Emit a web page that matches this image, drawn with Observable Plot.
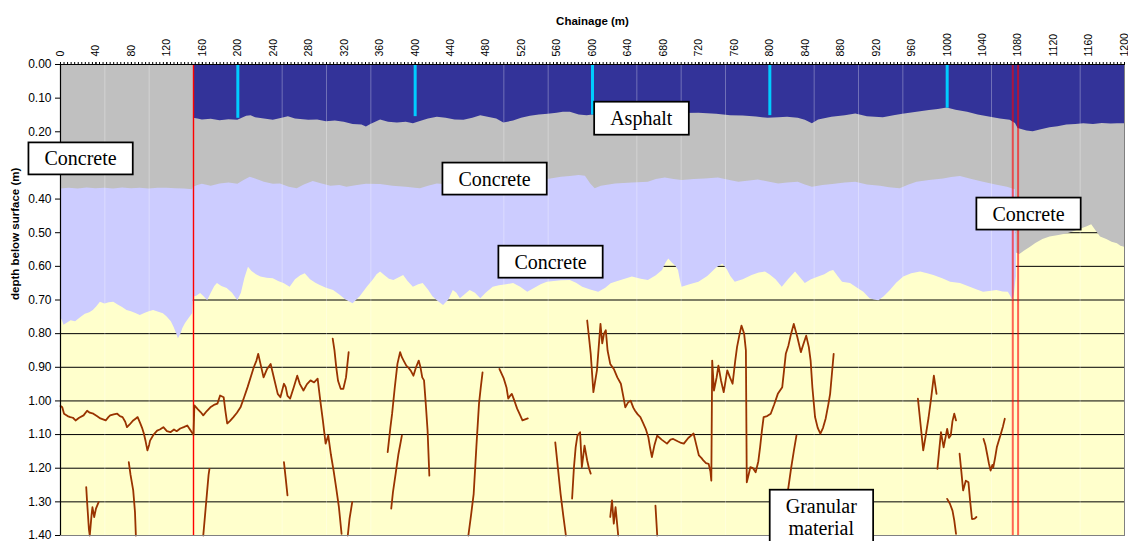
<!DOCTYPE html>
<html><head><meta charset="utf-8">
<script src="https://cdn.jsdelivr.net/npm/d3@7"></script>
<script src="https://cdn.jsdelivr.net/npm/@observablehq/plot@0.6"></script>
<style>body{margin:0;background:#fff}</style>
</head><body><div id="chart"></div>
<script>
// ---------- axis ticks ----------
const xTicks = d3.range(0, 1201, 40);
const xMinorTicks = d3.range(0, 1201, 4);
const yTicks = d3.range(0, 15).map(i => i / 10);

// ---------- layer boundaries: [chainage (m), depth (m)] ----------
const asphaltBottom = [[150,0.160],[155,0.162],[160,0.165],[170,0.163],[180,0.167],[190,0.164],[200,0.166],[205,0.160],[210,0.154],[215,0.152],[220,0.158],[230,0.162],[240,0.166],[250,0.160],[257,0.155],[265,0.162],[280,0.166],[290,0.165],[300,0.170],[310,0.168],[320,0.172],[330,0.178],[340,0.180],[345,0.186],[350,0.178],[361,0.165],[370,0.172],[380,0.174],[390,0.172],[398,0.176],[405,0.170],[415,0.162],[425,0.157],[435,0.160],[445,0.165],[455,0.166],[465,0.160],[474,0.152],[485,0.158],[492,0.162],[500,0.174],[511,0.168],[520,0.160],[530,0.154],[540,0.150],[550,0.148],[560,0.145],[567,0.142],[575,0.142],[585,0.150],[594,0.152],[600,0.150],[620,0.152],[640,0.150],[660,0.148],[680,0.147],[700,0.146],[720,0.145],[740,0.148],[756,0.152],[770,0.153],[785,0.156],[798,0.160],[810,0.158],[820,0.157],[832,0.160],[840,0.166],[848,0.176],[855,0.165],[870,0.157],[885,0.152],[897,0.147],[910,0.155],[928,0.158],[940,0.152],[950,0.148],[966,0.142],[980,0.137],[990,0.134],[1000,0.129],[1010,0.136],[1023,0.142],[1035,0.150],[1049,0.157],[1060,0.162],[1071,0.166],[1077,0.175],[1080,0.190],[1090,0.198],[1097,0.200],[1105,0.195],[1116,0.188],[1125,0.185],[1135,0.180],[1145,0.178],[1154,0.176],[1165,0.178],[1175,0.175],[1185,0.177],[1192,0.176],[1200,0.176]];

const concreteBottom = [[0,0.370],[10,0.368],[20,0.370],[30,0.367],[40,0.369],[50,0.368],[60,0.370],[70,0.367],[80,0.369],[90,0.368],[100,0.370],[110,0.368],[120,0.368],[130,0.369],[140,0.370],[149,0.372],[150,0.365],[155,0.360],[160,0.356],[170,0.362],[180,0.355],[190,0.352],[200,0.356],[207,0.345],[214,0.335],[220,0.340],[230,0.350],[240,0.356],[248,0.355],[258,0.365],[267,0.369],[275,0.358],[285,0.348],[295,0.355],[305,0.362],[315,0.360],[323,0.365],[335,0.360],[345,0.356],[361,0.357],[375,0.362],[390,0.365],[400,0.368],[406,0.369],[415,0.362],[425,0.355],[440,0.358],[460,0.360],[480,0.358],[500,0.356],[520,0.352],[540,0.345],[553,0.340],[565,0.335],[575,0.333],[585,0.330],[592,0.332],[598,0.355],[603,0.369],[610,0.362],[626,0.355],[645,0.352],[663,0.350],[672,0.342],[682,0.337],[692,0.342],[701,0.345],[715,0.342],[727,0.340],[742,0.337],[755,0.345],[765,0.350],[787,0.343],[800,0.350],[810,0.355],[820,0.352],[832,0.350],[840,0.358],[848,0.365],[860,0.360],[871,0.357],[885,0.352],[897,0.350],[910,0.358],[925,0.362],[935,0.366],[947,0.369],[957,0.358],[966,0.350],[980,0.345],[996,0.340],[1005,0.336],[1015,0.333],[1028,0.342],[1041,0.350],[1055,0.358],[1068,0.365],[1074,0.370],[1077,0.372],[1078,0.560],[1082,0.565],[1087,0.555],[1094,0.543],[1100,0.532],[1108,0.520],[1116,0.513],[1126,0.508],[1136,0.503],[1145,0.495],[1152,0.488],[1158,0.482],[1163,0.476],[1168,0.495],[1173,0.513],[1180,0.520],[1186,0.528],[1192,0.533],[1196,0.540],[1200,0.543]];

const lowerConcreteBottom = [[0,0.752],[2,0.760],[4,0.775],[7,0.770],[12,0.762],[17,0.765],[23,0.752],[28,0.742],[33,0.738],[37,0.731],[41,0.720],[45,0.707],[50,0.712],[55,0.708],[60,0.707],[65,0.715],[70,0.722],[75,0.731],[80,0.735],[85,0.740],[90,0.746],[95,0.740],[100,0.735],[105,0.731],[110,0.736],[116,0.741],[120,0.750],[125,0.765],[128,0.781],[131,0.800],[133,0.815],[136,0.800],[138,0.785],[141,0.770],[145,0.755],[149,0.741],[150,0.692],[154,0.688],[158,0.681],[162,0.690],[166,0.702],[170,0.680],[174,0.660],[177,0.651],[182,0.660],[188,0.666],[194,0.680],[200,0.702],[204,0.680],[208,0.635],[212,0.603],[216,0.615],[221,0.625],[226,0.632],[233,0.635],[240,0.637],[246,0.645],[252,0.651],[259,0.662],[265,0.640],[271,0.628],[276,0.622],[282,0.640],[288,0.650],[293,0.657],[300,0.665],[308,0.672],[315,0.685],[322,0.700],[330,0.711],[338,0.690],[346,0.662],[353,0.640],[357,0.625],[361,0.617],[366,0.628],[371,0.638],[376,0.642],[381,0.635],[387,0.627],[392,0.645],[398,0.662],[404,0.655],[409,0.651],[415,0.670],[420,0.690],[425,0.702],[432,0.716],[438,0.700],[443,0.672],[447,0.680],[451,0.696],[456,0.685],[462,0.672],[468,0.680],[474,0.696],[480,0.680],[488,0.662],[495,0.658],[503,0.655],[511,0.651],[519,0.662],[527,0.677],[535,0.665],[542,0.655],[549,0.647],[557,0.645],[565,0.643],[575,0.642],[582,0.650],[589,0.662],[598,0.670],[607,0.677],[615,0.665],[621,0.652],[626,0.647],[635,0.640],[645,0.632],[655,0.638],[663,0.642],[672,0.628],[679,0.612],[683,0.590],[686,0.578],[690,0.590],[694,0.600],[697,0.612],[699,0.640],[701,0.662],[710,0.655],[720,0.647],[730,0.630],[740,0.605],[744,0.598],[747,0.593],[752,0.610],[756,0.630],[761,0.647],[770,0.640],[780,0.627],[788,0.620],[795,0.617],[800,0.625],[807,0.640],[814,0.662],[821,0.640],[829,0.617],[835,0.635],[840,0.651],[847,0.640],[855,0.632],[862,0.625],[868,0.615],[872,0.612],[877,0.630],[882,0.647],[891,0.651],[899,0.665],[906,0.677],[913,0.696],[918,0.700],[923,0.702],[929,0.690],[936,0.672],[943,0.650],[951,0.632],[960,0.622],[970,0.617],[978,0.622],[985,0.627],[995,0.637],[1004,0.647],[1015,0.651],[1026,0.662],[1034,0.670],[1041,0.677],[1048,0.675],[1056,0.672],[1063,0.676],[1069,0.677],[1072,0.690],[1074,0.702],[1076,0.680],[1078,0.630]];

// ---------- granular material interface traces ----------
const granular01 = [[0,1.015],[2,1.019],[4,1.038],[8,1.045],[11,1.048],[14,1.050],[17,1.058],[21,1.050],[26,1.043],[30,1.029],[33,1.035],[37,1.038],[41,1.045],[45,1.052],[48,1.055],[51,1.058],[54,1.048],[56,1.043],[60,1.040],[64,1.038],[67,1.045],[70,1.048],[73,1.062],[75,1.078],[78,1.070],[82,1.058],[85,1.052],[87,1.048],[90,1.067],[92,1.080],[94,1.097],[96,1.120],[98,1.147],[100,1.130],[101,1.118],[105,1.100],[109,1.088],[112,1.085],[116,1.078],[120,1.090],[124,1.093],[128,1.085],[131,1.090],[135,1.082],[139,1.078],[143,1.073],[146,1.085],[149,1.097],[150,1.100]];
const granular02 = [[150,1.100],[151,1.013],[155,1.025],[158,1.033],[161,1.043],[165,1.030],[169,1.019],[173,1.012],[177,1.008],[180,0.984],[184,0.989],[186,1.030],[188,1.067],[191,1.060],[195,1.048],[199,1.035],[203,1.019],[207,0.990],[211,0.959],[215,0.925],[218,0.900],[221,0.880],[223,0.860],[226,0.895],[229,0.930],[233,0.905],[237,0.890],[241,0.935],[245,0.979],[248,0.989],[252,0.949],[254,0.959],[256,0.985],[259,0.993],[263,0.960],[267,0.925],[270,0.950],[274,0.969],[278,0.950],[282,0.939],[286,0.945],[290,0.934],[293,0.999],[296,1.060],[299,1.127],[302,1.103],[305,1.160],[308,1.207],[311,1.260],[314,1.316],[317,1.395]];
const granular03 = [[324,1.400],[326,1.350],[329,1.301]];
const granular04 = [[307,0.815],[309,0.850],[311,0.900],[313,0.940],[316,0.964],[319,0.964],[322,0.930],[324,0.880],[325,0.855]];
const granular05 = [[252,1.182],[254,1.230],[256,1.281]];
const granular06 = [[369,1.152],[372,1.080],[374,1.038],[377,0.960],[380,0.890],[383,0.855],[385,0.870],[387,0.880],[390,0.895],[392,0.900],[395,0.910],[398,0.925],[401,0.900],[404,0.880],[406,0.900],[408,0.930],[410,0.939],[412,1.010],[414,1.088],[416,1.222]];
const granular07 = [[373,1.320],[375,1.270],[378,1.216],[381,1.160],[385,1.103]];
const granular08 = [[460,1.400],[463,1.340],[466,1.276],[469,1.138],[472,1.008],[474,0.960],[476,0.915]];
const granular09 = [[495,0.905],[500,0.934],[503,0.960],[505,0.993],[507,0.985],[509,0.979],[512,1.000],[515,1.023],[518,1.040],[521,1.058],[524,1.055],[527,1.052]];
const granular10 = [[558,1.123],[561,1.200],[564,1.276],[567,1.340],[570,1.400]];
const granular11 = [[577,1.290],[579,1.200],[581,1.138],[583,1.103],[586,1.093],[588,1.197],[591,1.133],[594,1.177],[596,1.200],[598,1.216]];
const granular12 = [[620,1.345],[622,1.296],[624,1.365],[626,1.316],[629,1.400]];
const granular13 = [[671,1.311],[673,1.400]];
const granular14 = [[594,0.761],[596,0.810],[598,0.860],[601,0.974],[605,0.909],[609,0.771],[611,0.829],[613,0.800],[615,0.790],[617,0.850],[620,0.890],[624,0.905],[628,0.930],[632,0.949],[635,0.990],[637,1.019],[640,1.005],[643,0.999],[646,1.020],[648,1.029],[651,1.040],[654,1.048],[657,1.065],[660,1.083],[663,1.108],[665,1.140],[667,1.167],[670,1.130],[673,1.103],[678,1.115],[684,1.127],[688,1.115],[691,1.113],[696,1.120],[700,1.125],[703,1.127],[708,1.110],[714,1.097],[717,1.130],[720,1.162],[723,1.170],[725,1.177],[728,1.185],[731,1.187],[733,1.210],[734,1.237],[735,0.880],[737,0.969],[740,0.930],[742,0.895],[745,0.940],[748,0.974],[752,0.909],[755,0.930],[758,0.949],[761,0.880],[763,0.840],[766,0.800],[768,0.776],[771,0.800],[773,0.850],[774,1.242],[776,1.220],[778,1.197],[781,1.200],[784,1.212],[787,1.180],[789,1.138],[791,1.090],[793,1.048],[797,1.045],[801,1.038],[805,1.010],[809,0.979],[814,0.959],[816,0.910],[818,0.860],[821,0.835],[824,0.800],[827,0.771],[831,0.810],[835,0.855],[838,0.830],[841,0.806],[844,0.840],[846,0.880],[848,0.960],[851,1.048],[854,1.080],[857,1.097],[860,1.080],[863,1.052],[866,1.010],[868,0.979],[870,0.920],[872,0.860]];
const granular15 = [[818,1.300],[821,1.256],[824,1.200],[827,1.150],[830,1.103]];
const granular16 = [[967,0.993],[970,1.070],[973,1.147],[976,1.100],[979,1.050],[982,0.990],[985,0.925],[988,0.979]];
const granular17 = [[989,1.202],[993,1.093],[996,1.138],[1000,1.083],[1002,1.110],[1004,1.103],[1006,1.060],[1008,1.038],[1010,1.058]];
const granular18 = [[1014,1.157],[1016,1.210],[1018,1.266],[1021,1.237],[1024,1.242],[1026,1.300],[1028,1.351],[1031,1.350],[1033,1.345]];
const granular19 = [[1000,1.291],[1003,1.305],[1006,1.326],[1008,1.355],[1010,1.395]];
const granular20 = [[1041,1.113],[1043,1.130],[1045,1.157],[1047,1.185],[1049,1.207],[1051,1.190],[1052,1.197],[1054,1.170],[1056,1.138],[1058,1.120],[1060,1.103],[1063,1.075],[1065,1.053]];
const granular21 = [[29,1.256],[30,1.300],[31,1.340],[32,1.380],[33,1.400],[34,1.370],[35,1.340],[36,1.316],[37,1.330],[38,1.345],[40,1.320],[43,1.301]];
const granular22 = [[77,1.182],[79,1.220],[82,1.266],[84,1.330],[85,1.400]];
const granular23 = [[161,1.400],[163,1.340],[165,1.280],[167,1.220],[168,1.202]];

// ---------- markers ----------
const coreChainage = [200, 400, 600, 800, 1000];
const coreDepth = [0.160, 0.155, 0.150, 0.152, 0.130];
const sectionChangeA = [150];
const sectionChangeB = [1074, 1080];
const fileJoins = [50, 100, 250, 300, 350, 500, 550, 650, 700, 750, 850, 900, 950, 1050, 1150];

// ---------- annotations ----------
const annoLabels = ["Concrete", "Asphalt", "Concrete", "Concrete", "Concrete", "Granular\nmaterial"];
const annoChainage = [22.6, 655, 489.5, 552.6, 1091.7, 858];
const annoDepth = [0.279, 0.158, 0.339, 0.586, 0.443, 1.344];

// ---------- build tables ----------
const pts = a => a.map(([c, d]) => ({c, d}));
const granularTraces = [granular01, granular02, granular03, granular04, granular05, granular06, granular07, granular08, granular09, granular10, granular11, granular12, granular13, granular14, granular15, granular16, granular17, granular18, granular19, granular20, granular21, granular22, granular23];
const granularData = granularTraces.flatMap((seg, i) => seg.map(([c, d]) => ({c, d, id: i})));
const coreData = coreChainage.map((c, i) => ({c, d: coreDepth[i]}));
const annoData = annoLabels.map((t, i) => ({t, c: annoChainage[i], d: annoDepth[i]}));

const sans = "'Liberation Sans', Arial, Helvetica, sans-serif";
const serif = "'Liberation Serif', 'Times New Roman', Times, serif";

const plot = Plot.plot({
  width: 1128,
  height: 541,
  marginLeft: 60,
  marginRight: 4,
  marginTop: 64,
  marginBottom: 6,
  style: {fontFamily: sans, background: "white", color: "black"},
  x: {domain: [0, 1200]},
  y: {domain: [0, 1.4], reverse: true},
  marks: [
    Plot.frame({fill: "#FFFFCC"}),
    Plot.ruleY(yTicks, {stroke: "#000", strokeWidth: 1}),
    Plot.areaY(pts(lowerConcreteBottom), {x: "c", y1: 0, y2: "d", fill: "#CCCCFF"}),
    Plot.areaY(pts(concreteBottom), {x: "c", y1: 0, y2: "d", fill: "#C0C0C0"}),
    Plot.areaY(pts(asphaltBottom), {x: "c", y1: 0, y2: "d", fill: "#333399"}),
    Plot.ruleX(fileJoins, {stroke: "white", strokeOpacity: 0.3}),
    Plot.ruleX(coreData, {x: "c", y1: 0, y2: "d", stroke: "#00CCFF", strokeWidth: 3}),
    Plot.ruleX(sectionChangeA, {stroke: "#FF0000", strokeWidth: 1.4}),
    Plot.ruleX(sectionChangeB, {stroke: "#FF0000", strokeWidth: 2, strokeOpacity: 0.6}),
    Plot.line(granularData, {x: "c", y: "d", z: "id", stroke: "#993300", strokeWidth: 1.8}),
    Plot.frame({stroke: "#808080"}),
    Plot.ruleX([0], {stroke: "#000", strokeWidth: 1.2}),
    Plot.ruleY([0], {stroke: "#000", strokeWidth: 1}),
    Plot.axisX({anchor: "top", ticks: xMinorTicks, tickSize: 3, tickFormat: () => "", label: null}),
    Plot.axisX({anchor: "top", ticks: xTicks, tickSize: 3, tickPadding: 5, tickRotate: -90, tickFormat: d => String(d), fontSize: 10.5, label: null}),
    Plot.axisY({anchor: "left", ticks: yTicks, tickSize: 5, tickPadding: 4, tickFormat: d3.format(".2f"), fontSize: 12, label: null}),
    Plot.text(["Chainage (m)"], {text: d => d, frameAnchor: "top", dy: -48, fontWeight: "bold", fontSize: 11.5}),
    Plot.text(["depth below surface (m)"], {text: d => d, frameAnchor: "left", dx: -45, rotate: -90, fontWeight: "bold", fontSize: 11.5}),
    Plot.text(annoData, {x: "c", y: "d", text: "t", fontFamily: serif, fontSize: 20, lineHeight: 1.1, fill: "black"})
  ]
});
document.getElementById("chart").append(plot);

// white label boxes behind annotation texts (sized from the rendered text)
d3.select(plot).selectAll("g").filter(function () {
  const f = this.getAttribute("font-family");
  return f && f.includes("Serif");
}).each(function () {
  this.style.fontFamily = serif;
}).selectAll("text").each(function () {
  this.style.fontFamily = serif;
  d3.select(this).selectAll("tspan").style("font-family", serif);
  const b = this.getBBox();
  const padX = 16, padY = 5;
  const r = document.createElementNS("http://www.w3.org/2000/svg", "rect");
  r.setAttribute("x", b.x - padX);
  r.setAttribute("y", b.y - padY);
  r.setAttribute("width", b.width + 2 * padX);
  r.setAttribute("height", b.height + 2 * padY);
  r.setAttribute("fill", "white");
  r.setAttribute("stroke", "black");
  r.setAttribute("stroke-width", 1.75);
  const tr = this.getAttribute("transform");
  if (tr) r.setAttribute("transform", tr);
  this.parentNode.insertBefore(r, this);
});
</script>
</body></html>
